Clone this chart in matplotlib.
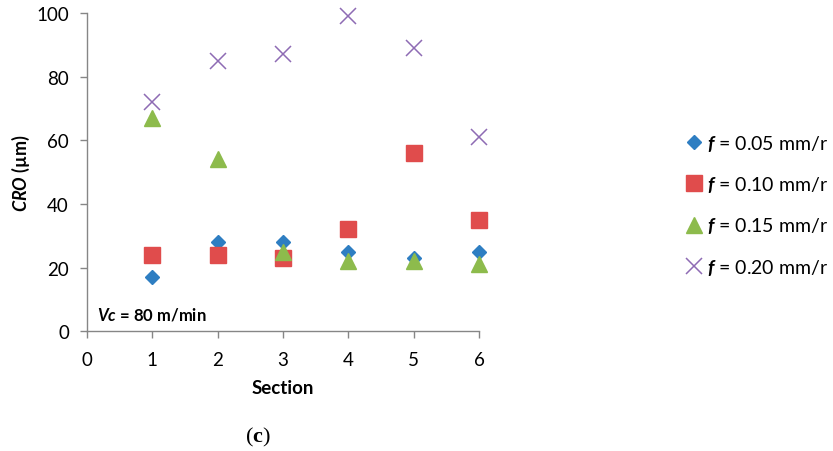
import numpy as np
import matplotlib
matplotlib.use("Agg")
import matplotlib.pyplot as plt

plt.rcParams['font.family'] = ['Lato', 'DejaVu Sans']
plt.rcParams['mathtext.fontset'] = 'custom'
plt.rcParams['mathtext.rm'] = 'Lato:bold'
plt.rcParams['mathtext.it'] = 'Lato:italic:bold'
plt.rcParams['mathtext.bf'] = 'Lato:bold'
plt.rcParams['mathtext.sf'] = 'Liberation Serif:bold'

sections = [1, 2, 3, 4, 5, 6]
cro_f005 = [17, 28, 28, 25, 23, 25]
cro_f010 = [24, 24, 23, 32, 56, 35]
cro_f015 = [67, 54, 25, 22, 22, 21]
cro_f020 = [72, 85, 87, 99, 89, 61]
feed_labels = ['0.05', '0.10', '0.15', '0.20']

axis_grey = '#868686'

fig = plt.figure(figsize=(8.33, 4.52), dpi=100)
ax = fig.add_axes([0.1044, 0.2648, 0.4706, 0.7042])

ax.plot(sections, cro_f005, 'D', color='#2E7EC2', markersize=7, clip_on=False,
        label='$f$ = %s mm/r' % feed_labels[0])
ax.plot(sections, cro_f010, 's', color='#E04C4C', markersize=12, clip_on=False,
        label='$f$ = %s mm/r' % feed_labels[1])
ax.plot(sections, cro_f015, '^', color='#8DBB4C', markersize=11, clip_on=False,
        label='$f$ = %s mm/r' % feed_labels[2])
ax.plot(sections, cro_f020, 'x', color='#8E6BB4', markersize=12, markeredgewidth=1.1,
        clip_on=False, label='$f$ = %s mm/r' % feed_labels[3])

ax.set_xlim(0, 6)
ax.set_ylim(0, 100)
ax.set_xticks(range(0, 7))
ax.set_yticks(range(0, 101, 20))
for side in ['top', 'right']:
    ax.spines[side].set_visible(False)
for side in ['left', 'bottom']:
    ax.spines[side].set_color(axis_grey)
    ax.spines[side].set_linewidth(1.0)
ax.tick_params(axis='both', colors=axis_grey, labelcolor='black', labelsize=13.5,
               length=5, width=1.0, direction='out')
ax.tick_params(axis='x', pad=9)
ax.tick_params(axis='y', pad=8)

ax.set_xlabel('Section', fontsize=13.5, fontweight='bold', labelpad=8)
ax.set_ylabel('$CRO$ (µm)', fontsize=13, fontweight='bold', labelpad=3)

ax.text(0.15, 5.4, '$Vc$ = 80 m/min', fontsize=12, fontweight='bold', va='center', ha='left')

fig.legend(loc='center left', bbox_to_anchor=(0.816, 0.545), frameon=False, fontsize=14,
           handlelength=0.7, handletextpad=0.3, labelspacing=1.1, borderaxespad=0)

fig.text(0.31, 0.033, r'($\mathsf{c}$)', fontsize=16, family='Liberation Serif',
         ha='center', va='center')

fig.savefig('out.png', dpi=100)
